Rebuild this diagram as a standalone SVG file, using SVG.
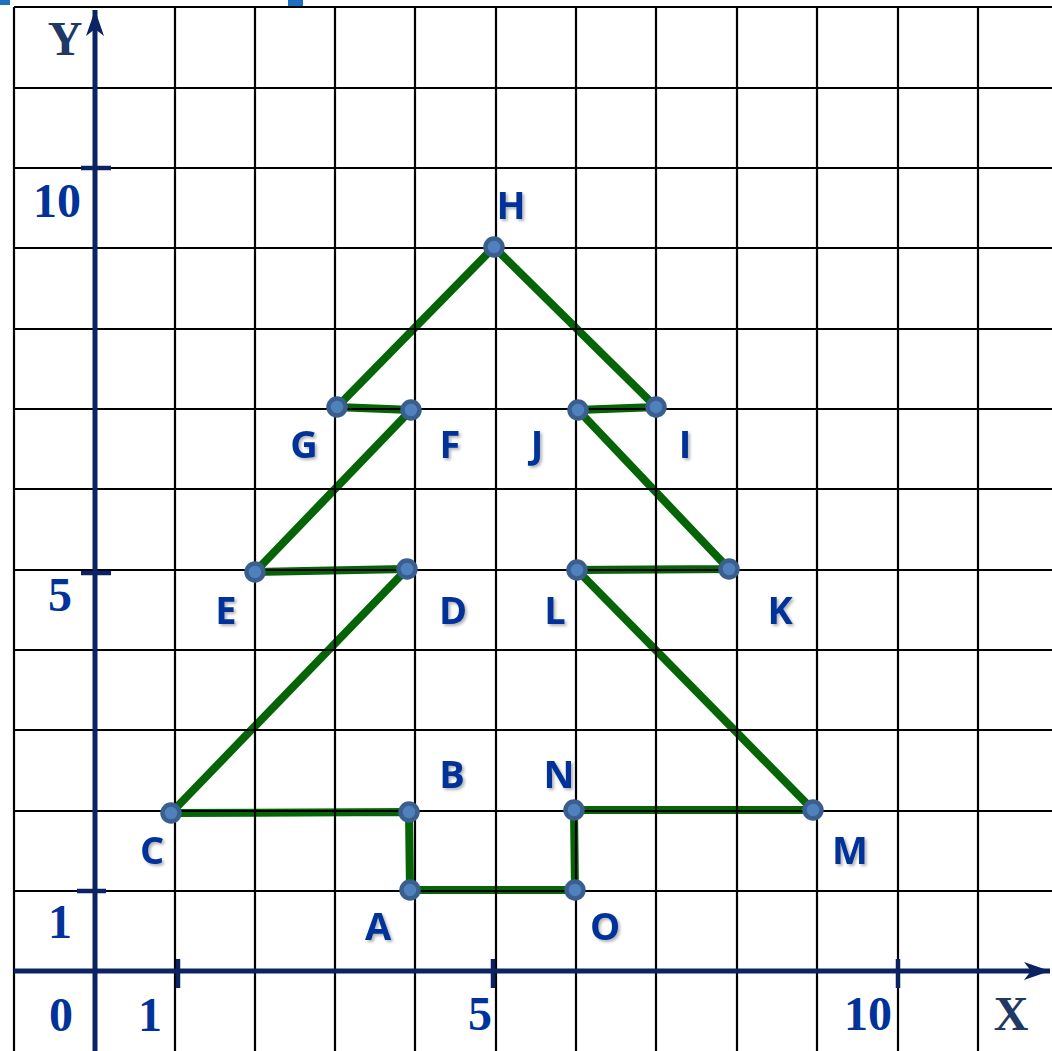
<svg xmlns="http://www.w3.org/2000/svg" width="1052" height="1051" viewBox="0 0 1052 1051">
<defs>
<style>
.grid line{stroke:#000;stroke-width:2.2}
.edge{stroke:#056405;stroke-width:8;stroke-linecap:round;fill:none}
.node circle{fill:#4f81bd;stroke:#3a5f8e;stroke-width:4.5}
.lbl{font-family:"Open Sans","Liberation Sans",sans-serif;font-weight:700;font-size:38px;fill:#003399;text-anchor:middle;filter:url(#sh)}
.num{font-family:"Liberation Serif",serif;font-weight:700;font-size:48px;fill:#003399;text-anchor:middle}
.axl{font-family:"Liberation Serif",serif;font-weight:700;font-size:48px;fill:#1f3864;text-anchor:middle}
.axis{stroke:#0b2263;stroke-width:5}
.tick{stroke:#0b2263;stroke-width:4.5}
</style>
<filter id="sh" x="-30%" y="-30%" width="160%" height="160%">
<feDropShadow dx="2" dy="2" stdDeviation="1.5" flood-color="#000" flood-opacity="0.3"/>
</filter>
<marker id="arr" viewBox="0 0 26 18" refX="26" refY="9" markerWidth="26" markerHeight="18" markerUnits="userSpaceOnUse" orient="auto">
<path d="M0,0 L26,9 L0,18 L7,9 Z" fill="#0b2263"/>
</marker>
</defs>
<rect width="1052" height="1051" fill="#fff"/>
<rect x="0" y="0" width="10" height="5" fill="#1f6fc0"/>
<rect x="288" y="0" width="15" height="6" fill="#1f6fc0"/>
<g id="connectors">
<polyline class="edge" points="171,813 407,569 255,572 411,410 337,407 494,247 656,407 578,410 729,569 577,570 813,810 574,810 575,890 410,890 409,812 171,813"/>
</g>
<g class="grid" id="grid">
<line x1="14" y1="7" x2="14" y2="1051"/>
<line x1="175" y1="7" x2="175" y2="1051"/>
<line x1="255" y1="7" x2="255" y2="1051"/>
<line x1="335" y1="7" x2="335" y2="1051"/>
<line x1="415" y1="7" x2="415" y2="1051"/>
<line x1="496" y1="7" x2="496" y2="1051"/>
<line x1="576" y1="7" x2="576" y2="1051"/>
<line x1="656" y1="7" x2="656" y2="1051"/>
<line x1="737" y1="7" x2="737" y2="1051"/>
<line x1="817" y1="7" x2="817" y2="1051"/>
<line x1="898" y1="7" x2="898" y2="1051"/>
<line x1="978" y1="7" x2="978" y2="1051"/>
<line x1="14" y1="7" x2="1052" y2="7"/>
<line x1="14" y1="88" x2="1052" y2="88"/>
<line x1="14" y1="168" x2="1052" y2="168"/>
<line x1="14" y1="248" x2="1052" y2="248"/>
<line x1="14" y1="329" x2="1052" y2="329"/>
<line x1="14" y1="409" x2="1052" y2="409"/>
<line x1="14" y1="489" x2="1052" y2="489"/>
<line x1="14" y1="570" x2="1052" y2="570"/>
<line x1="14" y1="650" x2="1052" y2="650"/>
<line x1="14" y1="730" x2="1052" y2="730"/>
<line x1="14" y1="811" x2="1052" y2="811"/>
<line x1="14" y1="891" x2="1052" y2="891"/>
</g>
<g id="axes">
<line class="axis" x1="14" y1="971" x2="1050" y2="971" marker-end="url(#arr)"/>
<line class="axis" x1="95" y1="1051" x2="95" y2="10" marker-end="url(#arr)"/>
<line class="tick" x1="81" y1="168" x2="111" y2="168"/>
<line class="tick" x1="81" y1="573" x2="111" y2="573"/>
<line class="tick" x1="77" y1="891" x2="106" y2="891"/>
<line class="tick" x1="178" y1="959" x2="178" y2="988"/>
<line class="tick" x1="493" y1="959" x2="493" y2="988"/>
<line class="tick" x1="898" y1="959" x2="898" y2="988"/>
<text class="axl" x="65" y="55">Y</text>
<text class="axl" x="1011" y="1030">X</text>
<text class="num" x="57" y="217">10</text>
<text class="num" x="60" y="611">5</text>
<text class="num" x="60" y="938">1</text>
<text class="num" x="61" y="1031">0</text>
<text class="num" x="150" y="1031">1</text>
<text class="num" x="480" y="1030">5</text>
<text class="num" x="868" y="1030">10</text>
</g>
<g id="nodes">
<g id="node-H" class="node"><circle cx="494" cy="247" r="8.5"/><text class="lbl" x="511" y="219">H</text></g>
<g id="node-G" class="node"><circle cx="337" cy="407" r="8.5"/><text class="lbl" x="304" y="458">G</text></g>
<g id="node-F" class="node"><circle cx="411" cy="410" r="8.5"/><text class="lbl" x="450" y="458">F</text></g>
<g id="node-J" class="node"><circle cx="578" cy="410" r="8.5"/><text class="lbl" x="537" y="458">J</text></g>
<g id="node-I" class="node"><circle cx="656" cy="407" r="8.5"/><text class="lbl" x="685" y="458">I</text></g>
<g id="node-E" class="node"><circle cx="255" cy="572" r="8.5"/><text class="lbl" x="226" y="624">E</text></g>
<g id="node-D" class="node"><circle cx="407" cy="569" r="8.5"/><text class="lbl" x="453" y="624">D</text></g>
<g id="node-L" class="node"><circle cx="577" cy="570" r="8.5"/><text class="lbl" x="555" y="624">L</text></g>
<g id="node-K" class="node"><circle cx="729" cy="569" r="8.5"/><text class="lbl" x="780" y="624">K</text></g>
<g id="node-C" class="node"><circle cx="171" cy="813" r="8.5"/><text class="lbl" x="152" y="864">C</text></g>
<g id="node-B" class="node"><circle cx="409" cy="812" r="8.5"/><text class="lbl" x="452" y="788">B</text></g>
<g id="node-N" class="node"><circle cx="574" cy="810" r="8.5"/><text class="lbl" x="559" y="788">N</text></g>
<g id="node-M" class="node"><circle cx="813" cy="810" r="8.5"/><text class="lbl" x="850" y="864">M</text></g>
<g id="node-A" class="node"><circle cx="410" cy="890" r="8.5"/><text class="lbl" x="378" y="940">A</text></g>
<g id="node-O" class="node"><circle cx="575" cy="890" r="8.5"/><text class="lbl" x="605" y="940">O</text></g>
</g>
</svg>
